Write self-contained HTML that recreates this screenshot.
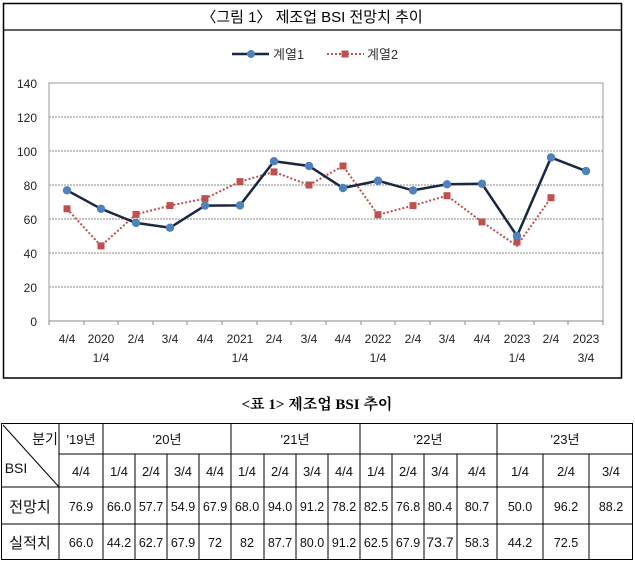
<!DOCTYPE html>
<html><head><meta charset="utf-8"><style>
body{margin:0;background:#fff;width:635px;height:561px;overflow:hidden;font-family:"Liberation Sans","Noto Sans CJK KR",sans-serif}
svg{position:absolute;left:0;top:0}
</style></head><body>
<svg width="635" height="561" xmlns="http://www.w3.org/2000/svg" font-family="Liberation Sans, Noto Sans CJK KR, sans-serif">
<rect x="3.5" y="3.5" width="618" height="374.5" fill="#fff" stroke="#000" stroke-width="1.5"/>
<line x1="3.5" y1="30" x2="621.5" y2="30" stroke="#000" stroke-width="1.2"/>
<text x="312" y="22" font-size="15" text-anchor="middle">〈그림 1〉 제조업 BSI 전망치 추이</text>
<!-- legend -->
<line x1="232" y1="54" x2="269" y2="54" stroke="#1a2740" stroke-width="2.5"/>
<circle cx="251" cy="54" r="4" fill="#4f81bd"/>
<text x="273" y="59" font-size="13" fill="#333">계열1</text>
<line x1="327" y1="54" x2="364" y2="54" stroke="#c0504d" stroke-width="2" stroke-dasharray="2,2"/>
<rect x="341.5" y="50.5" width="7" height="7" fill="#c0504d"/>
<text x="367" y="59" font-size="13" fill="#333">계열2</text>
<!-- grid -->
<g stroke="#888" stroke-width="1" stroke-dasharray="2,1">
<line x1="49" y1="117" x2="603" y2="117"/><line x1="49" y1="151" x2="603" y2="151"/>
<line x1="49" y1="185" x2="603" y2="185"/><line x1="49" y1="219" x2="603" y2="219"/>
<line x1="49" y1="253" x2="603" y2="253"/><line x1="49" y1="287" x2="603" y2="287"/>
</g>
<rect x="49" y="83" width="554" height="238" fill="none" stroke="#999"/>
<line x1="49" y1="321" x2="603" y2="321" stroke="#888"/>
<g font-size="12" fill="#222" text-anchor="end">
<text x="37" y="88">140</text><text x="37" y="122">120</text><text x="37" y="156">100</text>
<text x="37" y="190">80</text><text x="37" y="224">60</text><text x="37" y="258">40</text>
<text x="37" y="292">20</text><text x="37" y="326">0</text>
</g>
<g stroke="#888">
<line x1="49" y1="321" x2="49" y2="325"/><line x1="84" y1="321" x2="84" y2="325"/><line x1="118" y1="321" x2="118" y2="325"/><line x1="153" y1="321" x2="153" y2="325"/><line x1="187" y1="321" x2="187" y2="325"/><line x1="222" y1="321" x2="222" y2="325"/><line x1="257" y1="321" x2="257" y2="325"/><line x1="291" y1="321" x2="291" y2="325"/><line x1="326" y1="321" x2="326" y2="325"/><line x1="361" y1="321" x2="361" y2="325"/><line x1="395" y1="321" x2="395" y2="325"/><line x1="430" y1="321" x2="430" y2="325"/><line x1="465" y1="321" x2="465" y2="325"/><line x1="499" y1="321" x2="499" y2="325"/><line x1="534" y1="321" x2="534" y2="325"/><line x1="568" y1="321" x2="568" y2="325"/><line x1="603" y1="321" x2="603" y2="325"/>
</g>
<g font-size="12" fill="#222" text-anchor="middle">
<text x="67" y="343">4/4</text><text x="101" y="343">2020</text><text x="101" y="362">1/4</text>
<text x="136" y="343">2/4</text><text x="170" y="343">3/4</text><text x="205" y="343">4/4</text>
<text x="240" y="343">2021</text><text x="240" y="362">1/4</text>
<text x="274" y="343">2/4</text><text x="309" y="343">3/4</text><text x="343" y="343">4/4</text>
<text x="378" y="343">2022</text><text x="378" y="362">1/4</text>
<text x="413" y="343">2/4</text><text x="447" y="343">3/4</text><text x="482" y="343">4/4</text>
<text x="517" y="343">2023</text><text x="517" y="362">1/4</text>
<text x="551" y="343">2/4</text><text x="586" y="343">2023</text><text x="586" y="362">3/4</text>
</g>
<!-- series2 -->
<polyline fill="none" stroke="#c0504d" stroke-width="2" stroke-dasharray="2,2" points="67,208.8 101,245.9 136,214.4 170,205.6 205,198.6 240,181.6 274,171.9 309,185 343,165.96 378,214.75 413,205.6 447,195.7 482,221.9 517,245.9 551,197.75"/>
<g fill="#c0504d">
<rect x="63.5" y="205.3" width="7" height="7"/><rect x="97.5" y="242.4" width="7" height="7"/><rect x="132.5" y="210.9" width="7" height="7"/><rect x="166.5" y="202.1" width="7" height="7"/><rect x="201.5" y="195.1" width="7" height="7"/><rect x="236.5" y="178.1" width="7" height="7"/><rect x="270.5" y="168.4" width="7" height="7"/><rect x="305.5" y="181.5" width="7" height="7"/><rect x="339.5" y="162.5" width="7" height="7"/><rect x="374.5" y="211.2" width="7" height="7"/><rect x="409.5" y="202.1" width="7" height="7"/><rect x="443.5" y="192.2" width="7" height="7"/><rect x="478.5" y="218.4" width="7" height="7"/><rect x="513.5" y="238.5" width="7" height="7"/><rect x="547.5" y="194.2" width="7" height="7"/>
</g>
<!-- series1 -->
<polyline fill="none" stroke="#1a2740" stroke-width="2.5" points="67,190.3 101,208.8 136,222.9 170,227.7 205,205.6 240,205.4 274,161.2 309,166 343,188 378,180.75 413,190.4 447,184.3 482,183.8 517,236 551,157.5 586,171.1"/>
<g fill="#4f81bd">
<circle cx="67" cy="190.3" r="4.2"/><circle cx="101" cy="208.8" r="4.2"/><circle cx="136" cy="222.9" r="4.2"/><circle cx="170" cy="227.7" r="4.2"/><circle cx="205" cy="205.6" r="4.2"/><circle cx="240" cy="205.4" r="4.2"/><circle cx="274" cy="161.2" r="4.2"/><circle cx="309" cy="166" r="4.2"/><circle cx="343" cy="188" r="4.2"/><circle cx="378" cy="180.75" r="4.2"/><circle cx="413" cy="190.4" r="4.2"/><circle cx="447" cy="184.3" r="4.2"/><circle cx="482" cy="183.8" r="4.2"/><circle cx="517" cy="236" r="4.2"/><circle cx="551" cy="157.5" r="4.2"/><circle cx="586" cy="171.1" r="4.2"/>
</g>
<!-- table title -->
<text x="317" y="409" font-size="15" font-family="Liberation Serif, Noto Serif CJK SC, serif" text-anchor="middle" font-weight="bold">&lt;표 1&gt; 제조업 BSI 추이</text>
<!-- table -->
<g stroke="#000" stroke-width="1" fill="none">
<rect x="1.5" y="423.5" width="631" height="136"/>
<line x1="1" y1="454" x2="1" y2="454"/>
<line x1="59" y1="423" x2="59" y2="560"/>
<line x1="103" y1="423" x2="103" y2="560"/>
<line x1="231" y1="423" x2="231" y2="560"/>
<line x1="360" y1="423" x2="360" y2="560"/>
<line x1="497" y1="423" x2="497" y2="560"/>
<line x1="59" y1="454" x2="633" y2="454"/>
<line x1="1" y1="487" x2="633" y2="487"/>
<line x1="1" y1="524" x2="633" y2="524"/>
<line x1="135" y1="454" x2="135" y2="560"/><line x1="167" y1="454" x2="167" y2="560"/><line x1="199" y1="454" x2="199" y2="560"/>
<line x1="264" y1="454" x2="264" y2="560"/><line x1="296" y1="454" x2="296" y2="560"/><line x1="328" y1="454" x2="328" y2="560"/>
<line x1="392" y1="454" x2="392" y2="560"/><line x1="424" y1="454" x2="424" y2="560"/><line x1="457" y1="454" x2="457" y2="560"/>
<line x1="543" y1="454" x2="543" y2="560"/><line x1="589" y1="454" x2="589" y2="560"/>
<line x1="3" y1="425" x2="59" y2="487"/>
</g>
<g font-size="13" fill="#111" text-anchor="middle">
<text x="45" y="444" font-size="14">분기</text>
<text x="16" y="473" font-size="14">BSI</text>
<text x="81" y="444">'19년</text><text x="167" y="444">'20년</text><text x="295" y="444">'21년</text><text x="428" y="444">'22년</text><text x="565" y="444">'23년</text>
<text x="81" y="476">4/4</text>
<text x="119" y="476">1/4</text><text x="151" y="476">2/4</text><text x="183" y="476">3/4</text><text x="215" y="476">4/4</text>
<text x="247" y="476">1/4</text><text x="280" y="476">2/4</text><text x="312" y="476">3/4</text><text x="344" y="476">4/4</text>
<text x="376" y="476">1/4</text><text x="408" y="476">2/4</text><text x="440" y="476">3/4</text><text x="477" y="476">4/4</text>
<text x="520" y="476">1/4</text><text x="566" y="476">2/4</text><text x="611" y="476">3/4</text>
<text x="30" y="512" font-size="15">전망치</text><text x="30" y="548" font-size="15">실적치</text>
</g>
<g font-size="12.5" fill="#111" text-anchor="middle">
<text x="81" y="511">76.9</text><text x="119" y="511">66.0</text><text x="151" y="511">57.7</text><text x="183" y="511">54.9</text><text x="215" y="511">67.9</text><text x="247" y="511">68.0</text><text x="280" y="511">94.0</text><text x="312" y="511">91.2</text><text x="344" y="511">78.2</text><text x="376" y="511">82.5</text><text x="408" y="511">76.8</text><text x="440" y="511">80.4</text><text x="477" y="511">80.7</text><text x="520" y="511">50.0</text><text x="566" y="511">96.2</text><text x="611" y="511">88.2</text>
<text x="81" y="547">66.0</text><text x="119" y="547">44.2</text><text x="151" y="547">62.7</text><text x="183" y="547">67.9</text><text x="215" y="547">72</text><text x="247" y="547">82</text><text x="280" y="547">87.7</text><text x="312" y="547">80.0</text><text x="344" y="547">91.2</text><text x="376" y="547">62.5</text><text x="408" y="547">67.9</text><text x="440" y="547" font-size="14">73.7</text><text x="477" y="547">58.3</text><text x="520" y="547">44.2</text><text x="566" y="547">72.5</text>
</g>
</svg>
</body></html>
